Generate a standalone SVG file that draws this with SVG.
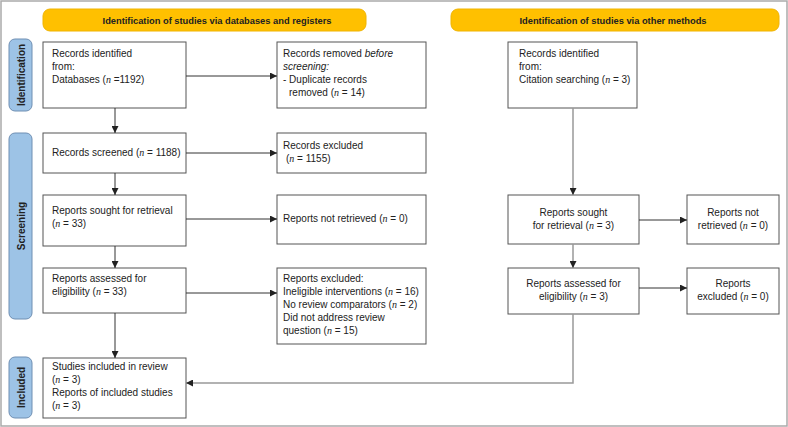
<svg xmlns="http://www.w3.org/2000/svg" width="788" height="427" viewBox="0 0 788 427">
<defs>
<marker id="ah" viewBox="0 0 10 10" refX="10" refY="5" markerWidth="7" markerHeight="7" markerUnits="userSpaceOnUse" orient="auto">
<path d="M0,0 L10,5 L0,10 z" fill="#222"/>
</marker>
<style>
text{font-family:"Liberation Sans",Arial,sans-serif;font-size:10px;fill:#222}
.b{font-weight:bold;font-size:9.3px}
.s{font-weight:bold;font-size:10px}
.c{text-anchor:middle}
.i{font-family:"Liberation Serif",serif;font-style:italic}
.box{fill:#fff;stroke:#555;stroke-width:1}
.ban{fill:#ffc000;stroke:#f0b400;stroke-width:1}
.side{fill:#9dc3e6;stroke:#6f8fb3;stroke-width:1}
.ln{fill:none;stroke:#333;stroke-width:1}
.ln2{fill:none;stroke:#999;stroke-width:1.5}
</style>
</defs>
<rect x="1" y="1" width="786" height="425" fill="#fff" stroke="#aaa" stroke-width="1.5"/>

<g id="banner-left"><rect class="ban" x="43" y="9" width="323" height="22" rx="7"/><text class="b c" x="217" y="23.5">Identification of studies via databases and registers</text></g>
<g id="banner-right"><rect class="ban" x="451" y="9" width="328" height="22" rx="7"/><text class="b c" x="613" y="23.5">Identification of studies via other methods</text></g>

<g id="side-identification"><rect class="side" x="9" y="39" width="23" height="72" rx="6"/><text class="s c" transform="translate(24.5,75) rotate(-90)">Identification</text></g>
<g id="side-screening"><rect class="side" x="9" y="133" width="23" height="186" rx="6"/><text class="s c" transform="translate(24.5,226) rotate(-90)">Screening</text></g>
<g id="side-included"><rect class="side" x="9" y="357" width="23" height="61" rx="6"/><text class="s c" transform="translate(24.5,387.5) rotate(-90)">Included</text></g>

<g id="records-identified"><rect class="box" x="43" y="42" width="143" height="66"/>
<text x="52" y="57">Records identified</text><text x="52" y="70">from:</text><text x="52" y="83">Databases (<tspan class="i">n</tspan> =1192)</text></g>
<g id="records-removed"><rect class="box" x="277" y="42" width="149" height="66"/>
<text x="283" y="57">Records removed <tspan font-style="italic">before</tspan></text><text x="283" y="70" font-style="italic">screening:</text><text x="283" y="83">- Duplicate records</text><text x="289" y="96">removed (<tspan class="i">n</tspan> = 14)</text></g>
<g id="records-screened"><rect class="box" x="43" y="133" width="143" height="40"/>
<text x="52" y="156">Records screened (<tspan class="i">n</tspan> = 1188)</text></g>
<g id="records-excluded"><rect class="box" x="277" y="133" width="149" height="40"/>
<text x="283" y="149">Records excluded</text><text x="286" y="162">(<tspan class="i">n</tspan> = 1155)</text></g>
<g id="reports-sought"><rect class="box" x="43" y="195" width="143" height="51"/>
<text x="52" y="214">Reports sought for retrieval</text><text x="52" y="227">(<tspan class="i">n</tspan> = 33)</text></g>
<g id="reports-not-retrieved"><rect class="box" x="277" y="195" width="149" height="49"/>
<text x="283" y="222">Reports not retrieved (<tspan class="i">n</tspan> = 0)</text></g>
<g id="reports-assessed"><rect class="box" x="43" y="268" width="143" height="45"/>
<text x="52" y="282">Reports assessed for</text><text x="52" y="295">eligibility (<tspan class="i">n</tspan> = 33)</text></g>
<g id="reports-excluded"><rect class="box" x="277" y="268" width="149" height="76"/>
<text x="283" y="282">Reports excluded:</text><text x="283" y="295">Ineligible interventions (<tspan class="i">n</tspan> = 16)</text><text x="283" y="308">No review comparators (<tspan class="i">n</tspan> = 2)</text><text x="283" y="321">Did not address review</text><text x="283" y="334">question (<tspan class="i">n</tspan> = 15)</text></g>
<g id="studies-included"><rect class="box" x="43" y="358" width="143" height="60"/>
<text x="52" y="370">Studies included in review</text><text x="52" y="383">(<tspan class="i">n</tspan> = 3)</text><text x="52" y="396">Reports of included studies</text><text x="52" y="409">(<tspan class="i">n</tspan> = 3)</text></g>

<g id="other-records-identified"><rect class="box" x="508" y="42" width="129" height="66"/>
<text x="519" y="57">Records identified</text><text x="519" y="70">from:</text><text x="519" y="83">Citation searching (<tspan class="i">n</tspan> = 3)</text></g>
<g id="other-reports-sought"><rect class="box" x="508" y="195" width="131" height="49"/>
<text class="c" x="573.5" y="216">Reports sought</text><text class="c" x="573.5" y="229">for retrieval (<tspan class="i">n</tspan> = 3)</text></g>
<g id="other-reports-not-retrieved"><rect class="box" x="687" y="195" width="92" height="49"/>
<text class="c" x="733" y="216">Reports not</text><text class="c" x="733" y="229">retrieved (<tspan class="i">n</tspan> = 0)</text></g>
<g id="other-reports-assessed"><rect class="box" x="508" y="268" width="131" height="46"/>
<text class="c" x="573.5" y="287">Reports assessed for</text><text class="c" x="573.5" y="300">eligibility (<tspan class="i">n</tspan> = 3)</text></g>
<g id="other-reports-excluded"><rect class="box" x="687" y="268" width="92" height="46"/>
<text class="c" x="733" y="287">Reports</text><text class="c" x="733" y="300">excluded (<tspan class="i">n</tspan> = 0)</text></g>

<g id="connectors">
<path class="ln" d="M186,76 H277" marker-end="url(#ah)"/>
<path class="ln" d="M115,108 V133" marker-end="url(#ah)"/>
<path class="ln" d="M186,153 H277" marker-end="url(#ah)"/>
<path class="ln" d="M115,173 V195" marker-end="url(#ah)"/>
<path class="ln" d="M186,219 H277" marker-end="url(#ah)"/>
<path class="ln" d="M115,246 V268" marker-end="url(#ah)"/>
<path class="ln" d="M186,293 H277" marker-end="url(#ah)"/>
<path class="ln" d="M115,313 V358" marker-end="url(#ah)"/>
<path class="ln2" d="M573,108 V195" marker-end="url(#ah)"/>
<path class="ln" d="M639,220 H687" marker-end="url(#ah)"/>
<path class="ln2" d="M573,244 V268" marker-end="url(#ah)"/>
<path class="ln" d="M639,288 H687" marker-end="url(#ah)"/>
<path class="ln2" d="M573,314 V383 H186" marker-end="url(#ah)"/>
</g>
</svg>
